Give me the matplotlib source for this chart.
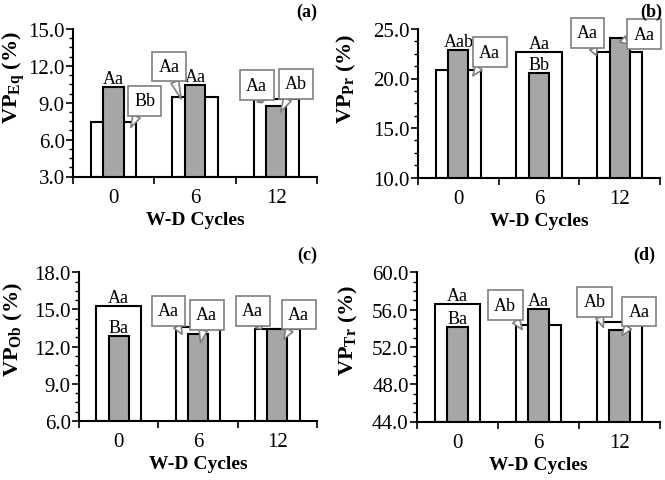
import matplotlib
matplotlib.use("Agg")
import matplotlib.pyplot as plt
import numpy as np
from matplotlib.ticker import MultipleLocator, FormatStrFormatter, FixedLocator

plt.rcParams['font.family'] = ['Liberation Serif', 'DejaVu Serif']
plt.rcParams['mathtext.fontset'] = 'custom'
plt.rcParams['mathtext.rm'] = 'Liberation Serif'
plt.rcParams['mathtext.bf'] = 'Liberation Serif:bold'

# ---- data ----
cycles = ['0', '6', '12']

eq_white = [7.4, 9.5, 9.3]
eq_gray = [10.25, 10.45, 8.75]
pr_white = [20.85, 22.7, 22.7]
pr_gray = [22.85, 20.6, 24.05]
ob_white = [15.3, 13.55, 13.42]
ob_gray = [12.82, 13.02, 13.46]
tr_white = [56.58, 54.35, 54.67]
tr_gray = [54.17, 56.04, 53.81]

eq_white_lbl = ['Bb', 'Aa', 'Aa']
eq_gray_lbl = ['Aa', 'Aa', 'Ab']
pr_white_lbl = ['Aa', 'Aa', 'Aa']
pr_gray_lbl = ['Aab', 'Bb', 'Aa']
ob_white_lbl = ['Aa', 'Aa', 'Aa']
ob_gray_lbl = ['Ba', 'Aa', 'Aa']
tr_white_lbl = ['Aa', 'Ab', 'Ab']
tr_gray_lbl = ['Ba', 'Aa', 'Aa']

ylabels = [r'$\mathbf{VP_{Eq}}$ (%)', r'$\mathbf{VP_{Pr}}$ (%)',
           r'$\mathbf{VP_{Ob}}$ (%)', r'$\mathbf{VP_{Tr}}$ (%)']
panel_tags = ['(a)', '(b)', '(c)', '(d)']

# ---- layout (positions / styles) ----
# callout layout: None -> plain label above bar, else (text_x, text_y, tip_x, tip_y) in data coords
lay = {
    0: dict(white=[(0.38, 9.15, 0.21, 7.0), (0.68, 11.95, 0.83, 9.31), (1.76, 10.42, 1.82, 9.0)],
            gray=[None, None, (2.24, 10.55, 2.05, 8.23)]),
    1: dict(white=[(0.39, 22.67, 0.18, 20.27), None, (1.60, 24.6, 1.71, 22.33)],
            gray=[None, None, (2.30, 24.47, 2.0, 23.67)]),
    2: dict(white=[None, (0.63, 14.9, 0.80, 13.0), (1.69, 14.9, 1.79, 13.41)],
            gray=[None, (1.11, 14.56, 1.03, 12.33), (2.27, 14.6, 2.08, 12.6)]),
    3: dict(white=[None, (0.59, 56.46, 0.80, 53.85), (1.69, 56.82, 1.80, 54.1)],
            gray=[None, None, (2.24, 55.8, 2.03, 53.2)]),
}
ylims = [(3, 15, 3, 0.75), (10, 25, 5, 1.25), (6, 18, 3, 0.75), (44, 60, 4, 1.0)]
axes_rect = [
    [73/665, 1-177.5/481, 244/665, 147.5/481],
    [418/665, 1-178.5/481, 242/665, 148.5/481],
    [79/665, 1-422/481, 238/665, 148.7/481],
    [417/665, 1-422.5/481, 243/665, 149.2/481],
]
ylabel_xy = [(-0.19, 0.68), (-0.25, 0.67), (-0.225, 0.62), (-0.235, 0.62)]
tag_pos = [(317/665, 1-12.5/481), (662/665, 1-12.5/481),
           (317/665, 1-255/481), (655/665, 1-255/481)]

whites = [eq_white, pr_white, ob_white, tr_white]
grays = [eq_gray, pr_gray, ob_gray, tr_gray]
wl = [eq_white_lbl, pr_white_lbl, ob_white_lbl, tr_white_lbl]
gl = [eq_gray_lbl, pr_gray_lbl, ob_gray_lbl, tr_gray_lbl]

fig = plt.figure(figsize=(6.65, 4.81), dpi=100)
x = np.arange(len(cycles))
GRAY = '#a6a6a6'
TFS = 15
AFS = 13

for i in range(4):
    ax = fig.add_axes(axes_rect[i])
    lo, hi, major, minor = ylims[i]
    ax.bar(x, np.array(whites[i]) - lo, bottom=lo, width=0.56, color='white',
           edgecolor='black', linewidth=1.5, zorder=2)
    ax.bar(x, np.array(grays[i]) - lo, bottom=lo, width=0.25, color=GRAY,
           edgecolor='black', linewidth=1.5, zorder=3)
    ax.set_xlim(-0.5, 2.5)
    ax.set_ylim(lo, hi)
    ax.yaxis.set_major_locator(MultipleLocator(major))
    ax.yaxis.set_minor_locator(MultipleLocator(minor))
    ax.yaxis.set_major_formatter(FormatStrFormatter('%.1f'))
    ax.set_xticks(x)
    ax.set_xticklabels(cycles)
    ax.xaxis.set_minor_locator(FixedLocator([-0.5, 0.5, 1.5, 2.5]))
    ax.tick_params(axis='x', which='major', length=0, labelsize=TFS, pad=8)
    ax.tick_params(axis='x', which='minor', length=5, width=1.2, direction='out')
    ax.tick_params(axis='y', which='major', length=5, width=1.2, labelsize=TFS, pad=1)
    ax.tick_params(axis='y', which='minor', length=3, width=1.0)
    for s in ['top', 'right']:
        ax.spines[s].set_visible(False)
    for s in ['left', 'bottom']:
        ax.spines[s].set_linewidth(1.5)
    ax.set_xlabel('W-D Cycles', fontsize=14, fontweight='bold', labelpad=3)
    ax.set_ylabel(ylabels[i], fontsize=16, fontweight='bold')
    ax.yaxis.set_label_coords(*ylabel_xy[i])
    fig.text(tag_pos[i][0], tag_pos[i][1], panel_tags[i], ha='right', va='center',
             fontsize=13, fontweight='bold')

    for kind, vals, labels in (('white', whites[i], wl[i]), ('gray', grays[i], gl[i])):
        for j in range(3):
            L = lay[i][kind][j]
            if L is None:
                ax.annotate(labels[j], (x[j], vals[j]), xytext=(0, 0.0),
                            textcoords='offset points', ha='center', va='bottom',
                            fontsize=AFS, zorder=5)
            else:
                tx, ty, px, py = L
                ax.annotate(labels[j], xy=(px, py), xytext=(tx, ty),
                            ha='center', va='center', fontsize=AFS, zorder=6,
                            bbox=dict(boxstyle='square,pad=0.35', fc='white',
                                      ec='#7f7f7f', lw=1.2),
                            arrowprops=dict(arrowstyle='wedge,tail_width=0.45',
                                            fc='white', ec='#7f7f7f', lw=1.2,
                                            shrinkA=0, shrinkB=0))

fig.savefig('out.png', dpi=100)
